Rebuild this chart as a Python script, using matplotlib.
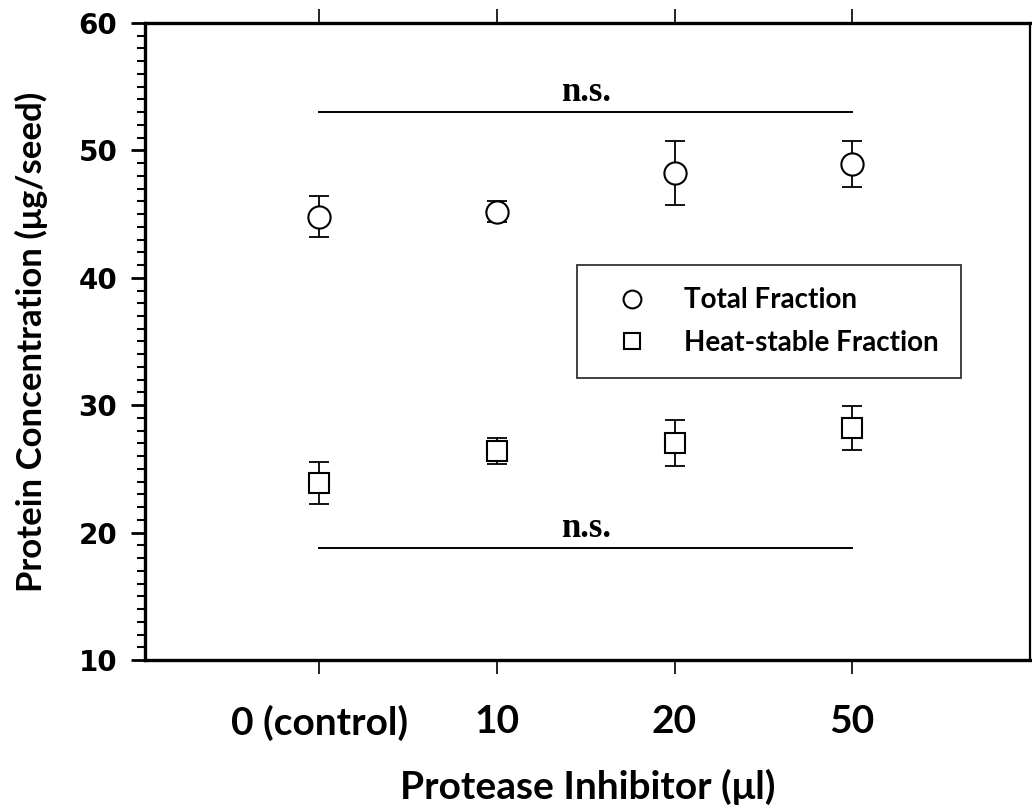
import matplotlib
matplotlib.use("Agg")
import matplotlib.pyplot as plt
from matplotlib.ticker import MultipleLocator

# values
categories = ['0 (control)', '10', '20', '50']
total_mean = [44.8, 45.2, 48.2, 48.9]
total_err = [1.6, 0.85, 2.5, 1.8]
heat_mean = [23.9, 26.4, 27.0, 28.2]
heat_err = [1.65, 1.0, 1.8, 1.75]
ns_levels = [53.0, 18.8]
y_ticks = [10, 20, 30, 40, 50, 60]

pos = list(range(len(categories)))

fig = plt.figure(figsize=(10.32, 8.09), dpi=100)
ax = fig.add_axes([0.1405, 0.1842, 0.8575, 0.7874])

# error bars first, markers on top
ax.errorbar(pos, total_mean, yerr=total_err, fmt='none', ecolor='black',
            elinewidth=1.3, capsize=7, capthick=1.3, zorder=2)
ax.errorbar(pos, heat_mean, yerr=heat_err, fmt='none', ecolor='black',
            elinewidth=1.3, capsize=7, capthick=1.3, zorder=2)
ax.plot(pos, total_mean, 'o', ms=16, mfc='white', mec='black', mew=1.5,
        ls='none', label='Total Fraction', zorder=3)
ax.plot(pos, heat_mean, 's', ms=15, mfc='white', mec='black', mew=1.5,
        ls='none', label='Heat-stable Fraction', zorder=3)

# n.s. brackets
for lvl in ns_levels:
    ax.plot([pos[0], pos[-1]], [lvl, lvl], color='black', lw=1.4)
    ax.text((pos[0] + pos[-1]) / 2, lvl + 0.25, 'n.s.', ha='center', va='bottom',
            family='Liberation Serif', fontweight='bold', fontsize=25)

ax.set_xlim(-0.98, 4.0)
ax.set_ylim(10, 60)

ax.set_xticks(pos)
ax.set_xticklabels(categories, family='Lato', fontweight='bold', fontsize=28)
ax.tick_params(axis='x', which='major', direction='out', length=10, width=1.2,
               top=True, pad=22)
ax.set_yticks(y_ticks)
ax.set_yticklabels([str(t) for t in y_ticks], family='DejaVu Sans',
                   fontweight='bold', fontsize=20)
ax.yaxis.set_minor_locator(MultipleLocator(1))
ax.tick_params(axis='y', which='major', direction='out', length=10, width=2, pad=10)
ax.tick_params(axis='y', which='minor', direction='out', length=6, width=1.5)

for side in ['left', 'bottom', 'top']:
    ax.spines[side].set_linewidth(2.4)
ax.spines['right'].set_linewidth(1.6)

ax.set_ylabel('Protein Concentration (\u03bcg/seed)', family='Lato',
              fontweight='bold', fontsize=25, labelpad=22)
ax.set_xlabel('Protease Inhibitor (\u03bcl)', family='Lato',
              fontweight='bold', fontsize=28, labelpad=20)

leg = ax.legend(loc='upper left', bbox_to_anchor=(0.488, 0.62),
                prop={'family': 'Lato', 'weight': 'bold', 'size': 20},
                frameon=True, fancybox=False, edgecolor='black',
                handlelength=2.4, handletextpad=0.65, borderpad=0.8,
                labelspacing=0.6, markerscale=0.8, borderaxespad=0)
leg.get_frame().set_linewidth(1.3)

fig.savefig('out.png', dpi=100)
